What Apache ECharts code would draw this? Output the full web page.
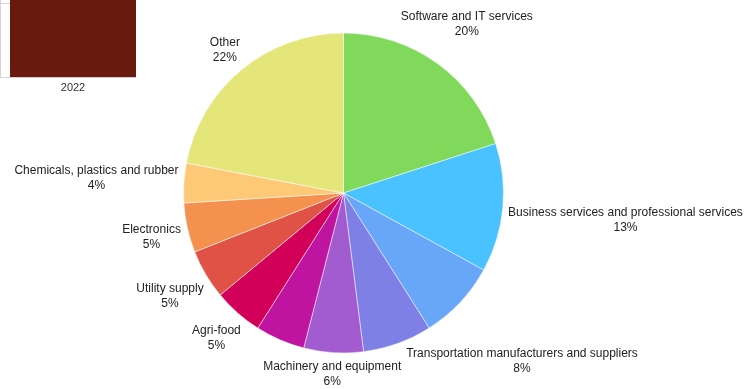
<!DOCTYPE html>
<html>
<head>
<meta charset="utf-8">
<script src="https://cdn.jsdelivr.net/npm/echarts@6/dist/echarts.min.js"></script>
<style>
  html, body { margin: 0; padding: 0; background: #fff; }
  #chart { width: 753px; height: 389px; }
</style>
</head>
<body>
<div id="chart"></div>
<script>
// Yearly total (small bar panel)
const years = ['2022'];
const yearTotals = [2];

// Sector shares of the pie, clockwise from 12 o'clock (percent)
const sectors = [
  'Software and IT services',
  'Business services and professional services',
  'Transportation manufacturers and suppliers',
  '',
  'Machinery and equipment',
  '',
  'Agri-food',
  'Utility supply',
  'Electronics',
  'Chemicals, plastics and rubber',
  'Other'
];
const shares = [20, 13, 8, 7, 6, 5, 5, 5, 5, 4, 22];

// Slice palette
const sectorColors = [
  '#80d95a', '#4ac2ff', '#68a6f8', '#7f80e6', '#a35bd0', '#bf14a0',
  '#d3005a', '#e05246', '#f5914f', '#fec977', '#e4e67a'
];

const PIE_CX = 343.5, PIE_CY = 193, PIE_R = 160, LABEL_GAP = 5;

// Mid angle of each slice (radians, clockwise from top)
const shareTotal = shares.reduce((a, b) => a + b, 0);
const midAngles = [];
let acc = 0;
shares.forEach(v => { midAngles.push((acc + v / 2) / shareTotal * 2 * Math.PI); acc += v; });

// Slide each label box outward along its slice's mid ray until the
// box's nearest point sits just outside the pie rim.
function placeLabel(p) {
  const a = midAngles[p.dataIndex];
  const ux = Math.sin(a), uy = -Math.cos(a);
  const hw = p.labelRect.width / 2, hh = p.labelRect.height / 2;
  const reach = t => {
    const cx = ux * t, cy = uy * t;
    const nx = Math.min(Math.max(0, cx - hw), cx + hw);
    const ny = Math.min(Math.max(0, cy - hh), cy + hh);
    return Math.hypot(nx, ny);
  };
  const target = PIE_R + LABEL_GAP;
  let lo = 0, hi = 800;
  for (let i = 0; i < 50; i++) {
    const mid = (lo + hi) / 2;
    if (reach(mid) < target) lo = mid; else hi = mid;
  }
  return {
    x: PIE_CX + ux * hi,
    y: PIE_CY + uy * hi + 1,
    align: 'center',
    verticalAlign: 'middle'
  };
}

const chart = echarts.init(document.getElementById('chart'), null, { renderer: 'canvas' });

chart.setOption({
  animation: false,
  backgroundColor: '#fff',
  textStyle: { fontFamily: 'Liberation Sans, Arial, sans-serif' },
  grid: {
    left: 10, top: -71, width: 126, height: 148,
    containLabel: false,
    outerBoundsMode: 'none'
  },
  xAxis: {
    type: 'category',
    data: years,
    axisLine: { show: true, lineStyle: { color: '#cfcfcf', width: 1 } },
    axisTick: { show: false },
    axisLabel: { fontSize: 11, color: '#333', margin: 5 }
  },
  yAxis: {
    type: 'value',
    min: 0, max: 2, interval: 1,
    offset: 10,
    axisLine: { show: true, lineStyle: { color: '#dccfcf', width: 1 } },
    axisTick: { show: true, inside: true, length: 10, lineStyle: { color: '#d4d4d4' } },
    axisLabel: { show: false },
    splitLine: { show: false }
  },
  series: [
    {
      type: 'bar',
      data: yearTotals,
      barWidth: '100%',
      itemStyle: { color: '#691a0c' },
      silent: true
    },
    {
      type: 'pie',
      center: [PIE_CX, PIE_CY],
      radius: PIE_R,
      startAngle: 90,
      clockwise: true,
      avoidLabelOverlap: false,
      itemStyle: { borderColor: '#ffffff', borderWidth: 0.5 },
      label: {
        show: true,
        position: 'outside',
        overflow: 'none',
        fontSize: 12,
        lineHeight: 15,
        color: '#222',
        formatter: p => p.name + '\n' + Math.round(p.percent) + '%'
      },
      labelLine: { show: false, length: 10, length2: 0 },
      labelLayout: placeLabel,
      data: sectors.map((name, i) => ({
        name: name,
        value: shares[i],
        itemStyle: { color: sectorColors[i] },
        label: { show: name !== '' }
      }))
    }
  ]
});
</script>
</body>
</html>
